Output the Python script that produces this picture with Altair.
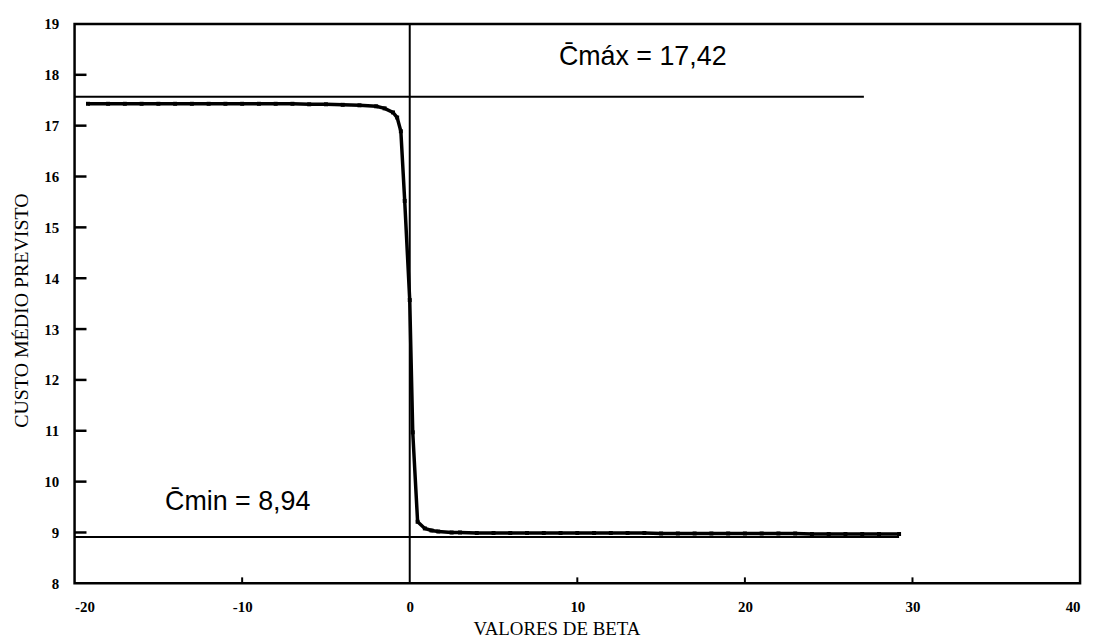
import altair as alt
import pandas as pd

# Curve: predicted mean cost vs beta
beta = [-19.2, -18, -17, -16, -15, -14, -13, -12, -11, -10, -9, -8, -7, -6,
        -5, -4, -3, -2, -1.5, -1, -0.75, -0.53, -0.3, 0, 0.18, 0.47, 0.9,
        1.3, 1.7, 2.5, 3, 4, 5, 6, 7, 8, 9, 10, 11, 12, 13, 14, 15, 16, 17,
        18, 19, 20, 21, 22, 23, 24, 25, 26, 27, 28, 29.2]
cost = [17.43, 17.43, 17.43, 17.43, 17.43, 17.43, 17.43, 17.43, 17.43, 17.43,
        17.43, 17.43, 17.43, 17.42, 17.42, 17.41, 17.40, 17.38, 17.34, 17.26,
        17.16, 16.89, 15.52, 13.57, 10.97, 9.21, 9.08, 9.04, 9.02, 9.00, 9.00,
        8.99, 8.99, 8.99, 8.99, 8.99, 8.99, 8.99, 8.99, 8.99, 8.99, 8.99, 8.98,
        8.98, 8.98, 8.98, 8.98, 8.98, 8.98, 8.98, 8.98, 8.97, 8.97, 8.97, 8.97,
        8.97, 8.97]

# Reference lines as drawn
hline_y = [17.57, 8.91]
hline_x0 = [-20, -20]
hline_x1 = [27.1, 29.2]
vline_x = [0]

# Annotations
ann_text = ["C\u0304máx = 17,42", "C\u0304min = 8,94"]
ann_x = [8.9, -14.6]
ann_y = [18.2, 9.45]

y_ticks = [9, 10, 11, 12, 13, 14, 15, 16, 17, 18]
x_ticks = [-10, 10, 20, 30]

W, H = 1012, 563

xs = alt.Scale(domain=[-20, 40], nice=False, zero=False)
ys = alt.Scale(domain=[8, 19], nice=False, zero=False)

df = pd.DataFrame({"beta": beta, "cost": cost})
hl = pd.DataFrame({"y": hline_y, "x0": hline_x0, "x1": hline_x1})
vl = pd.DataFrame({"x": vline_x})
ann = pd.DataFrame({"t": ann_text, "x": ann_x, "y": ann_y})
yt = pd.DataFrame({"v": y_ticks})
xt = pd.DataFrame({"v": x_ticks})

xaxis = alt.Axis(values=[-20, -10, 0, 10, 20, 30, 40], ticks=False, domain=False,
                 grid=False, labelFont="Liberation Serif", labelFontSize=15,
                 labelFontWeight="bold", labelColor="black", labelPadding=16,
                 labelExpr="'' + datum.value",
                 title="VALORES DE BETA", titleFont="Liberation Serif",
                 titleFontSize=19, titleFontWeight="normal", titleColor="black",
                 titleX=485, titleY=46, titleBaseline="middle", titleAlign="center")
yaxis = alt.Axis(values=list(range(8, 20)), ticks=False, domain=False, grid=False,
                 labelFont="Liberation Serif", labelFontSize=15,
                 labelFontWeight="bold", labelColor="black", labelPadding=16,
                 title="CUSTO MÉDIO PREVISTO", titleFont="Liberation Serif",
                 titleFontSize=20, titleFontWeight="normal", titleColor="black",
                 titleX=-53, titleY=288, titleAngle=-90, titleBaseline="middle",
                 titleAlign="center")

base_axes = alt.Chart(df).mark_line(opacity=0).encode(
    x=alt.X("beta:Q", scale=xs, axis=xaxis),
    y=alt.Y("cost:Q", scale=ys, axis=yaxis),
)

curve = alt.Chart(df).mark_line(color="black", strokeWidth=3.5).encode(
    x=alt.X("beta:Q", scale=xs), y=alt.Y("cost:Q", scale=ys))
pts = alt.Chart(df).mark_point(shape="square", filled=True, size=16,
                               color="black", opacity=1).encode(
    x=alt.X("beta:Q", scale=xs), y=alt.Y("cost:Q", scale=ys))

hrules = alt.Chart(hl).mark_rule(color="black", strokeWidth=2).encode(
    x=alt.X("x0:Q", scale=xs), x2="x1:Q", y=alt.Y("y:Q", scale=ys))
vrule = alt.Chart(vl).mark_rule(color="black", strokeWidth=2).encode(
    x=alt.X("x:Q", scale=xs), y=alt.value(0), y2=alt.value(H))

texts = alt.Chart(ann).mark_text(font="Liberation Sans", fontSize=27,
                                 align="left", baseline="alphabetic",
                                 color="black").encode(
    x=alt.X("x:Q", scale=xs), y=alt.Y("y:Q", scale=ys), text="t:N")

ytick_marks = alt.Chart(yt).mark_rule(color="black", strokeWidth=2.5).encode(
    y=alt.Y("v:Q", scale=ys), x=alt.value(0), x2=alt.value(12))
xtick_marks = alt.Chart(xt).mark_rule(color="black", strokeWidth=2).encode(
    x=alt.X("v:Q", scale=xs), y=alt.value(H), y2=alt.value(H - 6))

chart = alt.layer(base_axes, hrules, vrule, ytick_marks, xtick_marks, curve, pts,
                  texts).properties(
    width=W, height=H,
    background="white",
    autosize=alt.AutoSizeParams(type="none"),
    padding={"left": 67, "top": 14, "right": 10, "bottom": 58},
).configure_view(stroke="black", strokeWidth=2.5)

chart.save("out.html", embed_options={"renderer": "svg", "actions": False})
